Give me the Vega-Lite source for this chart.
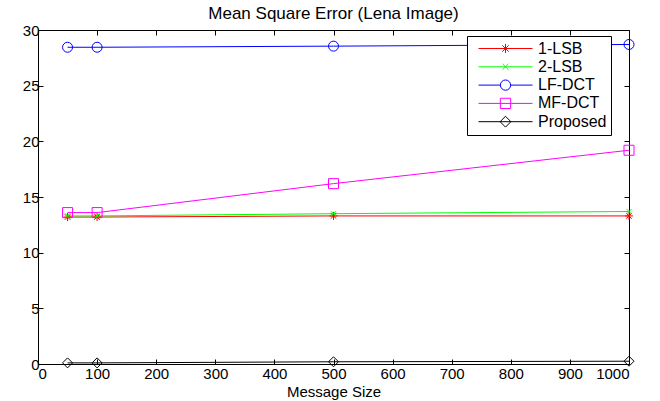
{
  "$schema": "https://vega.github.io/schema/vega-lite/v6.json",
  "autosize": "none",
  "width": 591,
  "height": 334,
  "padding": {"left": 38, "top": 30, "right": 31, "bottom": 37},
  "background": "white",
  "config": {
    "font": "Liberation Sans",
    "view": {"stroke": "black", "strokeWidth": 1},
    "axis": {"grid": false, "domainColor": "black", "tickColor": "black", "labelColor": "black", "titleColor": "black", "labelFont": "Liberation Sans", "titleFont": "Liberation Sans", "labelFontSize": 15, "titleFontSize": 15, "titleFontWeight": "normal", "tickSize": -5, "labelPadding": 4, "format": "d"}
  },
  "title": {"text": "Mean Square Error (Lena Image)", "fontSize": 17, "fontWeight": "normal", "font": "Liberation Sans", "color": "black", "offset": 0},
  "data": {"values": [
    {"series": "1-LSB", "size": 50, "mse": 13.2},
    {"series": "1-LSB", "size": 100, "mse": 13.2},
    {"series": "1-LSB", "size": 500, "mse": 13.3},
    {"series": "1-LSB", "size": 1000, "mse": 13.3},
    {"series": "2-LSB", "size": 50, "mse": 13.3},
    {"series": "2-LSB", "size": 100, "mse": 13.3},
    {"series": "2-LSB", "size": 500, "mse": 13.5},
    {"series": "2-LSB", "size": 1000, "mse": 13.7},
    {"series": "LF-DCT", "size": 50, "mse": 28.45},
    {"series": "LF-DCT", "size": 100, "mse": 28.45},
    {"series": "LF-DCT", "size": 500, "mse": 28.55},
    {"series": "LF-DCT", "size": 1000, "mse": 28.7},
    {"series": "MF-DCT", "size": 50, "mse": 13.6},
    {"series": "MF-DCT", "size": 100, "mse": 13.6},
    {"series": "MF-DCT", "size": 500, "mse": 16.2},
    {"series": "MF-DCT", "size": 1000, "mse": 19.2},
    {"series": "Proposed", "size": 50, "mse": 0.1},
    {"series": "Proposed", "size": 100, "mse": 0.1},
    {"series": "Proposed", "size": 500, "mse": 0.2},
    {"series": "Proposed", "size": 1000, "mse": 0.25}
  ]},
  "encoding": {
    "color": {"field": "series", "type": "nominal", "scale": {"domain": ["1-LSB", "2-LSB", "LF-DCT", "MF-DCT", "Proposed"], "range": ["#ff0000", "#00ff00", "#0000ff", "#ff00ff", "#000000"]},
      "legend": {"title": null, "orient": "none", "legendX": 429, "legendY": 6, "strokeColor": "black", "fillColor": "white", "padding": 4, "labelFontSize": 16, "labelFont": "Liberation Sans", "labelColor": "black", "clipHeight": 17, "rowPadding": 1.3, "labelOffset": 5, "symbolOffset": 7,
        "encode": {"symbols": {"update": {
          "shape": {"signal": "datum.value == '1-LSB' ? 'M-1,0L1,0M-0.17,0L0.17,0M0,-0.17L0,0.17M-0.12,-0.12L0.12,0.12M-0.12,0.12L0.12,-0.12' : datum.value == '2-LSB' ? 'M-1,0L1,0M-0.11,-0.11L0.11,0.11M-0.11,0.11L0.11,-0.11' : datum.value == 'LF-DCT' ? 'M-1,0L-0.19,0A0.19,0.19 0 1,1 0.19,0A0.19,0.19 0 1,1 -0.19,0M0.19,0L1,0' : datum.value == 'MF-DCT' ? 'M-1,0L1,0M-0.19,-0.19L0.19,-0.19L0.19,0.19L-0.19,0.19Z' : 'M-1,0L1,0M-0.2,0L0,-0.2L0.2,0L0,0.2Z'"},
          "size": {"value": 2916},
          "strokeWidth": {"value": 1},
          "fill": {"value": "transparent"},
          "opacity": {"value": 1}
        }}}
      }
    }
  },
  "layer": [
    {"mark": {"type": "line", "strokeWidth": 1},
      "encoding": {
        "x": {"field": "size", "type": "quantitative", "scale": {"domain": [0, 1000], "nice": false}, "axis": {"title": "Message Size", "values": [0,100,200,300,400,500,600,700,800,900,1000], "labelPadding": 7, "titlePadding": 3}},
        "y": {"field": "mse", "type": "quantitative", "scale": {"domain": [0, 30], "nice": false}, "axis": {"title": null, "values": [0,5,10,15,20,25,30]}}
      }
    },
    {"mark": {"type": "point", "filled": false, "strokeWidth": 1, "opacity": 1, "size": 100},
      "encoding": {
        "x": {"field": "size", "type": "quantitative", "axis": null},
        "y": {"field": "mse", "type": "quantitative", "axis": null},
        "shape": {"condition": [
          {"test": "datum.series === '1-LSB'", "value": "M-0.8,0L0.8,0M0,-0.8L0,0.8M-0.56,-0.56L0.56,0.56M-0.56,0.56L0.56,-0.56"},
          {"test": "datum.series === '2-LSB'", "value": "M-0.5,-0.5L0.5,0.5M-0.5,0.5L0.5,-0.5"},
          {"test": "datum.series === 'LF-DCT'", "value": "circle"},
          {"test": "datum.series === 'MF-DCT'", "value": "square"}
        ], "value": "diamond"}
      }
    },
    {"mark": {"type": "rule", "opacity": 0},
      "encoding": {
        "x": {"field": "size", "type": "quantitative", "axis": {"orient": "top", "labels": false, "title": null, "domain": false, "values": [0,100,200,300,400,500,600,700,800,900,1000]}},
        "y": {"field": "mse", "type": "quantitative", "axis": {"orient": "right", "labels": false, "title": null, "domain": false, "values": [0,5,10,15,20,25,30]}}
      }
    }
  ],
  "resolve": {"axis": {"x": "independent", "y": "independent"}}
}
